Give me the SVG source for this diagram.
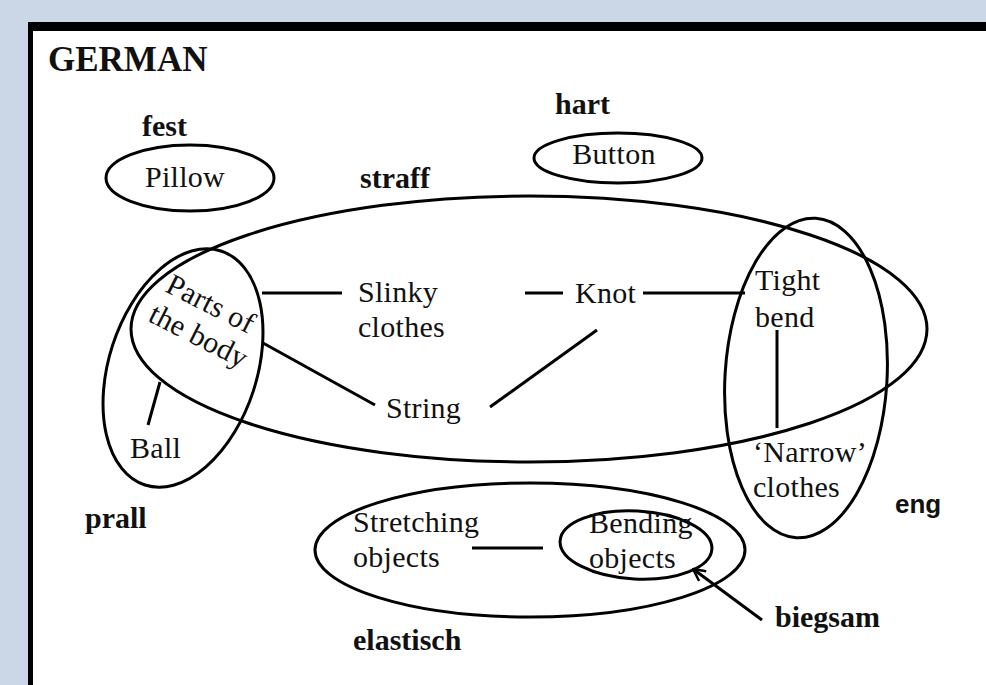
<svg xmlns="http://www.w3.org/2000/svg" width="986" height="685" viewBox="0 0 986 685">
  <style>
    .ring { fill: none; stroke: #000; stroke-width: 3; }
    .link { stroke: #000; stroke-width: 3; fill: none; }
    .word { font-family: "Liberation Serif", "Times New Roman", serif; font-size: 30px; fill: #111; letter-spacing: 0.3px; }
    .tag { font-family: "Liberation Serif", "Times New Roman", serif; font-size: 30px; font-weight: bold; fill: #111; }
  </style>
  <defs>
    <marker id="open-arrow" viewBox="0 0 14 14" refX="13" refY="7" markerWidth="14" markerHeight="14" markerUnits="userSpaceOnUse" orient="auto">
      <path d="M1,1 L13,7 L1,13" fill="none" stroke="#000" stroke-width="2.5"/>
    </marker>
  </defs>

  <!-- page background and framed panel -->
  <rect x="0" y="0" width="986" height="685" fill="#cbd7e6"/>
  <rect x="28" y="22" width="958" height="663" fill="#000"/>
  <rect x="33" y="31" width="953" height="654" fill="#fff"/>

  <text class="tag" x="48" y="71" style="font-size:35px">GERMAN</text>

  <!-- category labels -->
  <g id="label-fest"><text class="tag" x="142" y="136">fest</text></g>
  <g id="label-hart"><text class="tag" x="555" y="114">hart</text></g>
  <g id="label-straff"><text class="tag" x="360" y="188">straff</text></g>
  <g id="label-prall"><text class="tag" x="85" y="528">prall</text></g>
  <g id="label-eng"><text x="895" y="513" style="font-family:'Liberation Sans', Arial, sans-serif; font-size:26px; font-weight:bold; fill:#111">eng</text></g>
  <g id="label-elastisch"><text class="tag" x="353" y="650">elastisch</text></g>
  <g id="label-biegsam"><text class="tag" x="775" y="627">biegsam</text></g>

  <!-- category regions -->
  <g id="region-straff"><ellipse class="ring" cx="529" cy="329" rx="398" ry="133"/></g>
  <g id="region-prall"><ellipse class="ring" cx="183" cy="368" rx="74" ry="123" transform="rotate(18 183 368)"/></g>
  <g id="region-eng"><ellipse class="ring" cx="806" cy="378" rx="81" ry="160" transform="rotate(3.5 806 378)"/></g>
  <g id="region-elastisch"><ellipse class="ring" cx="530" cy="550" rx="215" ry="67"/></g>

  <!-- senses -->
  <g id="node-pillow">
    <ellipse class="ring" cx="190" cy="178" rx="84" ry="33"/>
    <text class="word" x="185" y="187" text-anchor="middle">Pillow</text>
  </g>
  <g id="node-button">
    <ellipse class="ring" cx="618" cy="158" rx="84" ry="25"/>
    <text class="word" x="614" y="164" text-anchor="middle">Button</text>
  </g>
  <g id="node-body">
    <text class="word" transform="translate(164 291) rotate(27)"><tspan x="0" y="0">Parts of</tspan><tspan x="-2" y="34">the body</tspan></text>
  </g>
  <g id="node-ball"><text class="word" x="130" y="458">Ball</text></g>
  <g id="node-slinky">
    <text class="word" x="358" y="302">Slinky</text>
    <text class="word" x="358" y="337">clothes</text>
  </g>
  <g id="node-knot"><text class="word" x="575" y="303">Knot</text></g>
  <g id="node-string"><text class="word" x="386" y="418">String</text></g>
  <g id="node-tight">
    <text class="word" x="755" y="290">Tight</text>
    <text class="word" x="755" y="327">bend</text>
  </g>
  <g id="node-narrow">
    <text class="word" x="753" y="462">‘Narrow’</text>
    <text class="word" x="753" y="497">clothes</text>
  </g>
  <g id="node-stretching">
    <text class="word" x="353" y="532">Stretching</text>
    <text class="word" x="353" y="567">objects</text>
  </g>
  <g id="node-bending">
    <ellipse class="ring" cx="636" cy="545" rx="76" ry="34" transform="rotate(3 636 545)"/>
    <text class="word" x="589" y="533">Bending</text>
    <text class="word" x="589" y="568">objects</text>
  </g>

  <!-- connectors -->
  <g id="connectors">
    <line class="link" x1="262" y1="293" x2="342" y2="293"/>
    <line class="link" x1="263" y1="343" x2="375" y2="405"/>
    <line class="link" x1="525" y1="293" x2="563" y2="293"/>
    <line class="link" x1="643" y1="293" x2="745" y2="293"/>
    <line class="link" x1="490" y1="407" x2="597" y2="330"/>
    <line class="link" x1="777" y1="330" x2="777" y2="428"/>
    <line class="link" x1="160" y1="382" x2="148" y2="425"/>
    <line class="link" x1="472" y1="548" x2="543" y2="548"/>
    <line class="link" x1="762" y1="620" x2="693" y2="569" marker-end="url(#open-arrow)"/>
  </g>
</svg>
